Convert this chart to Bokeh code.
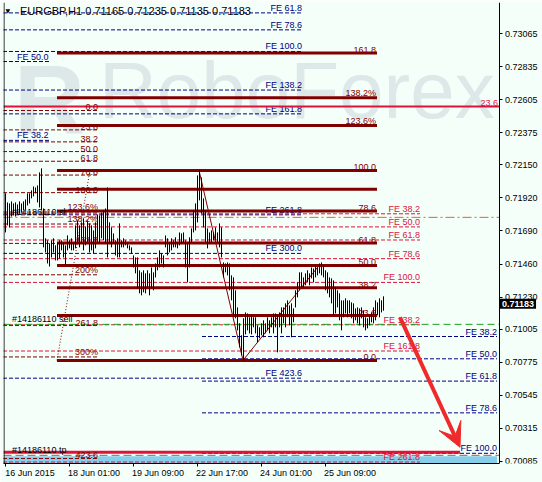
from bokeh.plotting import figure
from bokeh.models import (Range1d, FixedTicker, PrintfTickFormatter, Label, Arrow, VeeHead,
                          LinearAxis, Span)
from bokeh.core.properties import value
from bokeh.embed import file_html
from bokeh.resources import INLINE

# ---------------- data ----------------
symbol = "EURGBP,H1"
last_ohlc = [0.71165, 0.71235, 0.71135, 0.71183]

bar_high = [
    0.71952, 0.71889, 0.71882, 0.71896, 0.71882, 0.71889, 0.71875, 0.71896, 0.71882, 0.71896,
    0.71910, 0.71952, 0.71952, 0.71973, 0.72000, 0.71993, 0.72007, 0.72098, 0.72126, 0.71847,
    0.71639, 0.71625, 0.71604, 0.71625, 0.71639, 0.71590, 0.71604, 0.71625, 0.71625, 0.71604,
    0.71590, 0.71659, 0.71625, 0.71639, 0.71604, 0.71729, 0.71764, 0.71729, 0.71750, 0.71778,
    0.71722, 0.71764, 0.71743, 0.71729, 0.71694, 0.71750, 0.71805, 0.71798, 0.71819, 0.71833,
    0.71847, 0.71993, 0.71750, 0.71715, 0.71673, 0.71625, 0.71639, 0.71743, 0.71625, 0.71639,
    0.71625, 0.71604, 0.71590, 0.71576, 0.71520, 0.71506, 0.71506, 0.71416, 0.71402, 0.71416,
    0.71395, 0.71416, 0.71395, 0.71436, 0.71402, 0.71464, 0.71506, 0.71555, 0.71534, 0.71520,
    0.71659, 0.71639, 0.71611, 0.71639, 0.71625, 0.71646, 0.71611, 0.71680, 0.71673, 0.71680,
    0.71625, 0.71604, 0.71646, 0.71708, 0.71833, 0.71882, 0.72077, 0.72112, 0.72063, 0.71917,
    0.71833, 0.71708, 0.71680, 0.71694, 0.71680, 0.71715, 0.71680, 0.71743, 0.71715, 0.71471,
    0.71464, 0.71471, 0.71464, 0.71381, 0.71367, 0.71277, 0.71158, 0.71047, 0.70964, 0.71082,
    0.71123, 0.71116, 0.71089, 0.71103, 0.71089, 0.71089, 0.71033, 0.71019, 0.71047, 0.71068,
    0.71047, 0.71089, 0.71068, 0.71089, 0.71116, 0.71116, 0.71103, 0.71123, 0.71158, 0.71158,
    0.71186, 0.71207, 0.71172, 0.71186, 0.71151, 0.71277, 0.71332, 0.71402, 0.71402, 0.71367,
    0.71395, 0.71416, 0.71395, 0.71436, 0.71429, 0.71450, 0.71436, 0.71464, 0.71471, 0.71450,
    0.71416, 0.71402, 0.71367, 0.71360, 0.71346, 0.71298, 0.71277, 0.71256, 0.71207, 0.71207,
    0.71221, 0.71207, 0.71207, 0.71193, 0.71186, 0.71151, 0.71158, 0.71151, 0.71158, 0.71137,
    0.71089, 0.71082, 0.71103, 0.71123, 0.71158, 0.71207, 0.71193, 0.71221, 0.71207, 0.71235,
]
bar_low = [
    0.71680, 0.71729, 0.71715, 0.71791, 0.71798, 0.71791, 0.71805, 0.71812, 0.71819, 0.71833,
    0.71840, 0.71868, 0.71882, 0.71917, 0.71931, 0.71952, 0.71889, 0.71854, 0.71833, 0.71576,
    0.71541, 0.71464, 0.71443, 0.71506, 0.71541, 0.71485, 0.71485, 0.71499, 0.71555, 0.71506,
    0.71457, 0.71555, 0.71569, 0.71555, 0.71555, 0.71569, 0.71611, 0.71576, 0.71604, 0.71555,
    0.71590, 0.71604, 0.71541, 0.71555, 0.71534, 0.71569, 0.71604, 0.71604, 0.71639, 0.71625,
    0.71604, 0.71506, 0.71604, 0.71576, 0.71604, 0.71520, 0.71506, 0.71506, 0.71576, 0.71576,
    0.71590, 0.71569, 0.71555, 0.71534, 0.71436, 0.71395, 0.71291, 0.71256, 0.71242, 0.71263,
    0.71256, 0.71298, 0.71242, 0.71291, 0.71277, 0.71367, 0.71416, 0.71436, 0.71464, 0.71436,
    0.71576, 0.71520, 0.71541, 0.71555, 0.71576, 0.71576, 0.71569, 0.71590, 0.71604, 0.71611,
    0.71436, 0.71332, 0.71436, 0.71611, 0.71680, 0.71694, 0.71750, 0.71903, 0.71812, 0.71715,
    0.71611, 0.71569, 0.71604, 0.71611, 0.71625, 0.71625, 0.71611, 0.71576, 0.71506, 0.71367,
    0.71402, 0.71381, 0.71277, 0.71207, 0.71089, 0.71082, 0.70998, 0.70880, 0.70824, 0.70789,
    0.70970, 0.70998, 0.70977, 0.70970, 0.71019, 0.70977, 0.70915, 0.70943, 0.70964, 0.70950,
    0.70977, 0.70998, 0.70977, 0.71019, 0.70977, 0.71019, 0.70845, 0.71019, 0.70977, 0.71047,
    0.71019, 0.71089, 0.71033, 0.70950, 0.71054, 0.71158, 0.71228, 0.71277, 0.71298, 0.71298,
    0.71312, 0.71332, 0.71312, 0.71360, 0.71332, 0.71367, 0.71381, 0.71395, 0.71381, 0.71367,
    0.71277, 0.71256, 0.71228, 0.71186, 0.71103, 0.71116, 0.71158, 0.71068, 0.70998, 0.71089,
    0.71116, 0.71089, 0.71116, 0.71082, 0.71047, 0.71068, 0.71047, 0.71033, 0.71082, 0.71019,
    0.70998, 0.71012, 0.71033, 0.71054, 0.71047, 0.71068, 0.71103, 0.71089, 0.71123, 0.71135,
]
bar_index = list(range(len(bar_high)))

x_tick_index = [0, 32, 64, 96, 128, 160]
x_tick_labels = ["16 Jun 2015", "18 Jun 01:00", "19 Jun 09:00", "22 Jun 17:00", "24 Jun 01:00", "25 Jun 09:00"]
y_ticks = [0.73065, 0.72835, 0.72605, 0.72375, 0.72150, 0.71920, 0.71690,
           0.71460, 0.71230, 0.71005, 0.70775, 0.70545, 0.70315, 0.70085]

# Fibonacci retracement A (solid): swing low / swing high
ret_a_p0, ret_a_p100 = 0.70789, 0.72112
ret_a_levels = [0.0, 23.6, 38.2, 50.0, 61.8, 78.6, 100.0, 123.6, 138.2, 161.8]
ret_a_labels = ["0.0", "23.6", "38.2", "50.0", "61.8", "78.6", "100.0", "123.6%", "138.2%", "161.8"]
ret_a_bars = [26, 186]
ret_a_anchor_bars = [26, 42.5]
ret_a_extra_line = 0.71980

# Fibonacci retracement B (dashed, short)
ret_b_p0, ret_b_p100 = 0.72529, 0.71957
ret_b_levels = [0.0, 23.6, 38.2, 50.0, 61.8, 78.6, 100.0, 123.6, 138.2, 161.8, 200.0, 261.8, 300.0, 423.6]
ret_b_labels = ["0.0", "23.6", "38.2", "50.0", "61.8", "78.6", "100.0", "123.6%", "138.2%",
                "161.8", "200%", "261.8", "300%", "423.6"]
ret_b_bars = [-1, 47]

# Fibonacci expansion C (navy)
fe_c_p0, fe_c_p100 = 0.73643, 0.72940
fe_c_levels = [61.8, 78.6, 100.0, 138.2, 161.8, 261.8, 300.0, 423.6]
fe_c_bars = [-1, 148.5]

# Fibonacci expansion D (navy, left labels)
fe_d_prices = [0.72870, 0.72321]
fe_d_labels = ["FE 50.0", "FE 38.2"]
fe_d_bars = [-1, 22.5]

# Fibonacci expansion E (crimson)
fe_e_p0, fe_e_p100 = 0.72105, 0.71332
fe_e_levels = [38.2, 50.0, 61.8, 78.6, 100.0, 138.2, 161.8, 261.8]
fe_e_bars = [-1, 207.5]

# Fibonacci expansion F (navy, projection to the right)
fe_f_p0, fe_f_p100 = 0.71458, 0.70142
fe_f_levels = [38.2, 50.0, 61.8, 78.6, 100.0]
fe_f_bars = [98.5, 246]

# swing trend lines (high -> low -> high)
swing_bars = [97, 119, 157.5]
swing_prices = [0.72112, 0.70789, 0.71458]

# horizontal lines / order levels
red_line_price = 0.72557
order_sl = 0.71785
order_open = 0.71040
order_tp = 0.70128
tp_band_line = 0.70149
tp_zone = [0.70060, 0.70121]
order_label = "#14186110"

arrow_from = (197.5, 0.71089)
arrow_to = (227.5, 0.70184)

# ---------------- styling ----------------
BG = "#F5FFFA"
DARKRED = "#800000"
NAVY = "#000080"
CRIMSON = "#DC143C"
FONT = value("Liberation Sans")
FS = "9px"

X0 = -0.75          # left edge of the chart
XR = 247.0          # right edge of the chart (price scale line)
X1 = X0 + 539 / 2   # frame spans the price-scale area too
PIX_ALIGN = 0.25    # quarter bar (= half a pixel) so 1px bar strokes fall on whole pixels

p = figure(width=542, height=482,
           min_border_left=3, min_border_top=2, min_border_right=0, min_border_bottom=19,
           x_range=Range1d(X0, X1), y_range=Range1d(0.70071, 0.73281),
           y_axis_location=None, toolbar_location=None, output_backend="svg",
           background_fill_color=BG, border_fill_color=BG, outline_line_color=None)
p.grid.visible = False

# price scale on the right edge of the chart
yax = LinearAxis(fixed_location=XR, ticker=FixedTicker(ticks=y_ticks),
                 formatter=PrintfTickFormatter(format="%.5f"))
p.add_layout(yax, "right")

# x labels are drawn left-aligned from their tick (as in the terminal)
label_shift = 12.5
x_label_pos = [i + label_shift for i in x_tick_index]
p.xaxis.ticker = FixedTicker(ticks=x_label_pos, minor_ticks=x_tick_index)
p.xaxis.major_label_overrides = {pos: t for pos, t in zip(x_label_pos, x_tick_labels)}
p.xaxis.bounds = (X0, XR)
for ax in (p.xaxis[0], yax):
    ax.axis_line_color = "black"
    ax.major_tick_line_color = "black"
    ax.major_tick_in = 0
    ax.major_tick_out = 3
    ax.minor_tick_line_color = None
    ax.major_label_text_font = "Liberation Sans"
    ax.major_label_text_font_size = FS
    ax.major_label_text_color = "black"
    ax.major_label_standoff = 3
p.xaxis.major_tick_out = 0
p.xaxis.major_tick_line_color = None
p.xaxis.minor_tick_line_color = "black"
p.xaxis.minor_tick_in = 0
p.xaxis.minor_tick_out = 3
p.xaxis.major_label_standoff = 1

# left chart border
p.add_layout(Span(location=X0 + 0.25, dimension="height", line_color="black", line_width=1))

# watermark
p.add_layout(Label(x=4.5, y=0.72599, text="R", text_font="Liberation Sans", text_font_style="bold",
                   text_font_size="98px", text_color="#DDE8E8", text_baseline="alphabetic",
                   level="underlay"))
p.add_layout(Label(x=47, y=0.72668, text="RoboForex", text_font="Liberation Sans",
                   text_font_size="80px", text_color="#DDE8E8", text_baseline="alphabetic",
                   level="underlay"))

# TP zone
p.quad(left=X0, right=246, bottom=tp_zone[0], top=tp_zone[1], fill_color="#87CEEB", line_color=None)


def seg(prices, bars, color, dash="solid", width=1):
    p.segment(x0=[bars[0]] * len(prices), x1=[bars[1]] * len(prices), y0=prices, y1=prices,
              line_color=color, line_dash=dash, line_width=width)


def txt(xs, ys, texts, color, align="right", baseline="bottom"):
    p.text(x=xs, y=ys, text=texts, text_font=FONT, text_font_size=FS, text_color=color,
           text_align=align, text_baseline=baseline)


# B dashed retracement
b_prices = [ret_b_p0 + l / 100 * (ret_b_p100 - ret_b_p0) for l in ret_b_levels]
seg(b_prices, ret_b_bars, DARKRED, "4 2")

# C navy expansion
c_prices = [fe_c_p0 + l / 100 * (fe_c_p100 - fe_c_p0) for l in fe_c_levels]
seg(c_prices, fe_c_bars, NAVY, "4 2")
txt([fe_c_bars[1]] * len(c_prices), c_prices, ["FE %.1f" % l for l in fe_c_levels], NAVY)

# D
seg(fe_d_prices, fe_d_bars, NAVY, "4 2")
txt([6] * 2, fe_d_prices, fe_d_labels, NAVY, align="left")

# E crimson expansion
e_prices = [fe_e_p0 + l / 100 * (fe_e_p100 - fe_e_p0) for l in fe_e_levels]
seg(e_prices, fe_e_bars, CRIMSON, "4 2")
txt([fe_e_bars[1]] * len(e_prices), e_prices, ["FE %.1f" % l for l in fe_e_levels], CRIMSON)

# F navy projection
f_prices = [fe_f_p0 + l / 100 * (fe_f_p100 - fe_f_p0) for l in fe_f_levels]
seg(f_prices, fe_f_bars, NAVY, "4 2")
txt([fe_f_bars[1]] * len(f_prices), f_prices, ["FE %.1f" % l for l in fe_f_levels], NAVY)

# order lines (they stop at the price scale)
seg([order_sl], [X0, XR], "#F06020", "9 3 2 3")
seg([order_open], [X0, XR], "#1E9E1E", "7 4")
seg([order_tp], [X0, XR], "#E8401E", "8 4")
seg([tp_band_line], [X0, 227.5], CRIMSON, "solid", 3)
seg([red_line_price], [X0, XR], CRIMSON, "solid", 2)
txt([246.5], [red_line_price], ["23.6"], CRIMSON)

# A solid retracement
a_prices = [ret_a_p0 + l / 100 * (ret_a_p100 - ret_a_p0) for l in ret_a_levels]
seg(a_prices + [ret_a_extra_line], ret_a_bars, DARKRED, "solid", 3)
p.line(x=ret_a_anchor_bars, y=[ret_a_p0, ret_a_p100], line_color=DARKRED, line_dash="1 2", line_width=1)

# swing lines
p.line(x=swing_bars, y=swing_prices, line_color=DARKRED, line_width=1)

# price bars
bar_x = [i + PIX_ALIGN for i in bar_index]
p.segment(x0=bar_x, x1=bar_x, y0=bar_low, y1=bar_high, line_color="black", line_width=1)

# level labels
txt([ret_a_bars[1] - 0.5] * len(a_prices), a_prices, ret_a_labels, DARKRED)
txt([ret_b_bars[1] - 0.5] * len(b_prices), b_prices, ret_b_labels, DARKRED)

# order labels
txt([3.5] * 3, [order_sl, order_open, order_tp],
    [order_label + " sl", order_label + " sell", order_label + " tp"], "black", align="left")

# arrow
RED = "#EE2A2A"
p.add_layout(Arrow(end=VeeHead(size=24, fill_color=RED, line_color=RED),
                   x_start=arrow_from[0], y_start=arrow_from[1], x_end=arrow_to[0], y_end=arrow_to[1],
                   line_color=RED, line_width=4))

# header text
header = "%s  %.5f %.5f %.5f %.5f" % (symbol, *last_ohlc)
p.add_layout(Label(x=0.3, y=0.73225, text="\u25BC", text_font="DejaVu Sans", text_font_size="6px",
                   text_color="black", text_baseline="middle"))
p.add_layout(Label(x=7.5, y=0.73225, text=header, text_font="Liberation Sans", text_font_size="11px",
                   text_color="black", text_baseline="middle"))

# current price marker on the price scale
p.add_layout(Label(x=XR, x_offset=1, y=last_ohlc[3], text="%.5f" % last_ohlc[3],
                   text_font="Liberation Sans", text_font_size="9px", text_font_style="bold",
                   text_color="white", text_baseline="middle",
                   background_fill_color="black", padding=2))

open("out.html", "w").write(file_html(p, INLINE))
